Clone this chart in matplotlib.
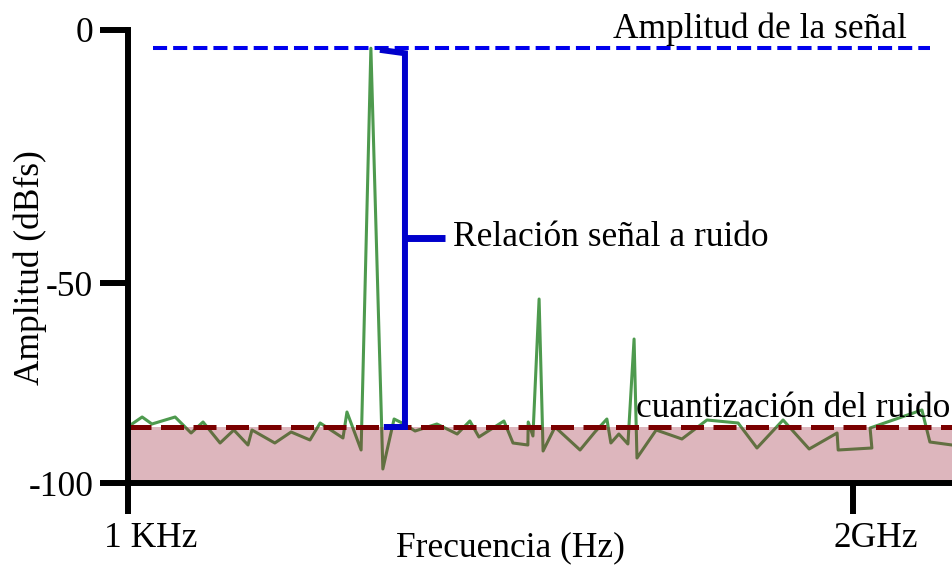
import numpy as np
import matplotlib
matplotlib.use("Agg")
import matplotlib.pyplot as plt
import matplotlib.transforms as mtransforms

plt.rcParams['font.family'] = ['Liberation Serif', 'DejaVu Serif']
plt.rcParams['axes.unicode_minus'] = False

# Frequency in MHz, amplitude in dBFS
freq_mhz = [11, 39, 66, 130, 174, 207, 254, 292, 331, 342, 405, 450, 502, 530,
            593, 604, 643, 670, 703, 734, 756, 792, 852, 908, 943, 968, 1037,
            1062, 1103, 1104, 1117, 1134, 1145, 1178, 1247, 1288, 1321, 1332,
            1354, 1379, 1396, 1404, 1457, 1528, 1597, 1683, 1735, 1807, 1879,
            1956, 1959, 2052, 2047, 2190, 2212, 2273]
amp_db = [-85.25, -83.5, -85.25, -83.5, -87.5, -84.75, -90.0, -86.75, -90.5,
          -86.75, -90.0, -87.25, -89.25, -85.0, -88.75, -82.25, -91.75, -3.6,
          -96.5, -84.0, -85.0, -87.0, -85.25, -87.75, -84.5, -88.5, -84.5,
          -90.0, -90.5, -84.75, -88.25, -54.0, -92.0, -86.0, -91.75, -87.25,
          -84.0, -90.0, -87.75, -90.25, -64.0, -93.75, -86.75, -89.0, -84.25,
          -85.0, -91.25, -84.25, -91.5, -87.5, -91.75, -91.25, -86.25, -81.75,
          -89.75, -90.5]

SIGNAL_DB = -3.6
NOISE_DB = -86.0
X_MIN, X_MAX = 0.001, 2273
x_ticks = [0.001, 2000]
x_tick_labels = ['1 KHz', '2GHz']
y_ticks = [-100, -50, 0]
y_tick_labels = ['-100', '-50', '0']


# piecewise-linear amplitude axis: the upper half is drawn taller
def fwd(y):
    y = np.asarray(y, float)
    return np.where(y >= -50, 200 + (y + 50) * 253 / 50, (y + 100) * 4.0)


def inv(v):
    v = np.asarray(v, float)
    return np.where(v >= 200, (v - 200) * 50 / 253 - 50, v / 4 - 100)


FS = 25.5
fig = plt.figure(figsize=(9.52, 5.65), dpi=100)
ax = fig.add_axes([128 / 952, 82 / 565, 824 / 952, 453 / 565])
ax.set_yscale('function', functions=(fwd, inv))
ax.set_xlim(X_MIN, X_MAX)
ax.set_ylim(-100, 0)

# spectrum
ax.plot(freq_mhz, amp_db, color='#4e9a4e', lw=2.2, zorder=2)

# quantisation noise band
ax.fill_between([X_MIN, X_MAX], -100, NOISE_DB, color=(145 / 255, 15 / 255, 38 / 255),
                alpha=0.3, lw=0, zorder=3)
ax.axhline(NOISE_DB, color='#7a0000', lw=3.6, dashes=(4.6, 1.9), zorder=4)

# signal level
ax.plot([69, 2212], [SIGNAL_DB, SIGNAL_DB], color='#0000ee', lw=2.9,
        dashes=(3.5, 1.5), zorder=4)

# SNR bracket
ax.plot([703, 764, 764, 714], [-4.0, -4.6, NOISE_DB, NOISE_DB],
        color='#0000cc', lw=4.3, solid_joinstyle='miter', zorder=5)
ax.plot([764, 874], [-41.1, -41.1], color='#0000cc', lw=5.0,
        solid_capstyle='butt', zorder=5)

ax.text(897, -41.1, 'Relación señal a ruido', fontsize=FS, ha='left',
        va='center', zorder=6)
ax.text(1338, -1.6, 'Amplitud de la señal', fontsize=FS, ha='left',
        va='baseline', clip_on=False, zorder=6)
ax.text(1401, -83.5, 'cuantización del ruido', fontsize=FS, ha='left',
        va='baseline', zorder=6)

# axes styling
for s in ('top', 'right'):
    ax.spines[s].set_visible(False)
for s in ('left', 'bottom'):
    ax.spines[s].set_linewidth(4.3)
    ax.spines[s].set_zorder(7)

ax.set_xticks(x_ticks, x_tick_labels)
ax.set_yticks(y_ticks, y_tick_labels)
ax.minorticks_off()
ax.tick_params(axis='both', width=4.3, labelsize=FS)
ax.tick_params(axis='y', length=20, pad=5)
ax.tick_params(axis='x', length=22, pad=6)

# frequency labels sit a little to the right of their ticks
shift = mtransforms.ScaledTranslation(23 / 100, 0, fig.dpi_scale_trans)
for lbl in ax.get_xticklabels():
    lbl.set_transform(lbl.get_transform() + shift)

ax.set_xlabel('Frecuencia (Hz)', fontsize=FS)
ax.set_ylabel('Amplitud (dBfs)', fontsize=FS)
ax.xaxis.set_label_coords((510 - 128) / 824, (483 - 548) / 453)
ax.xaxis.label.set_va('center')
ax.yaxis.set_label_coords((30 - 128) / 824, (483 - 268) / 453)
ax.yaxis.label.set_va('center')

fig.savefig('out.png', dpi=100)
